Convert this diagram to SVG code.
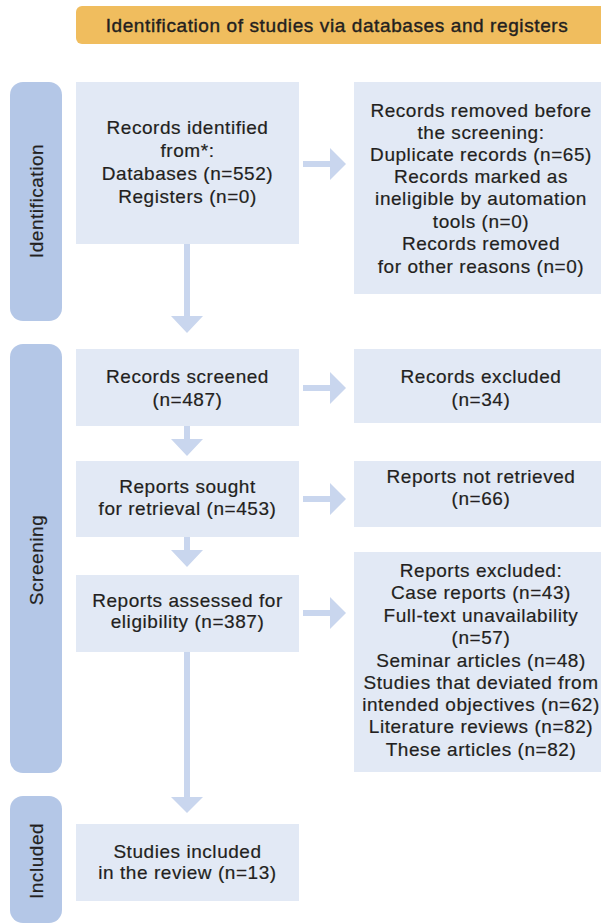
<svg xmlns="http://www.w3.org/2000/svg" width="601" height="924" viewBox="0 0 601 924">
<style>
.t{font-family:"Liberation Sans",Arial,Helvetica,sans-serif;font-size:19px;letter-spacing:0.55px;fill:#231f20;text-anchor:middle;stroke:#231f20;stroke-width:0.2}
.hd{font-family:"Liberation Sans",Arial,Helvetica,sans-serif;font-size:19px;letter-spacing:0.6px;fill:#231f20;text-anchor:middle;stroke:#231f20;stroke-width:0.4}
.box{fill:#e2e9f5}
.side{fill:#b4c7e7}
.arr{fill:#c9d6ee}
</style>
<rect width="601" height="924" fill="#ffffff"/>
<g id="header">
<rect x="76" y="6" width="535" height="38" rx="6" fill="#f0bd5e"/>
<text class="hd" x="337" y="32">Identification of studies via databases and registers</text>
</g>
<g id="phase-identification">
<rect class="side" x="10" y="82" width="52" height="239" rx="13"/>
<text class="t" transform="translate(43,201) rotate(-90)">Identification</text>
</g>
<g id="phase-screening">
<rect class="side" x="10" y="344" width="52" height="429" rx="13"/>
<text class="t" transform="translate(43,560) rotate(-90)">Screening</text>
</g>
<g id="phase-included">
<rect class="side" x="10" y="796" width="52" height="127" rx="13"/>
<text class="t" transform="translate(43,861) rotate(-90)">Included</text>
</g>
<g id="connectors">
<path class="arr" d="M184,244 V316 H171 L187,333 L203,316 H190 V244 Z"/>
<path class="arr" d="M184,426 V439 H171 L187,456 L203,439 H190 V426 Z"/>
<path class="arr" d="M184,537 V550 H171 L187,567 L203,550 H190 V537 Z"/>
<path class="arr" d="M184,652 V797 H171 L187,813 L203,797 H190 V652 Z"/>
<path class="arr" d="M303,161 H330 V148 L346,164 L330,180 V167 H303 Z"/>
<path class="arr" d="M303,385 H330 V372 L346,388 L330,404 V391 H303 Z"/>
<path class="arr" d="M303,496 H330 V483 L346,499 L330,515 V502 H303 Z"/>
<path class="arr" d="M303,610 H330 V597 L346,613 L330,629 V616 H303 Z"/>
</g>
<g id="records-identified">
<rect class="box" x="76" y="82" width="223" height="162"/>
<text class="t" x="187.5" y="134">Records identified</text>
<text class="t" x="187.5" y="157">from*:</text>
<text class="t" x="187.5" y="180">Databases (n=552)</text>
<text class="t" x="187.5" y="203">Registers (n=0)</text>
</g>
<g id="records-removed">
<rect class="box" x="354" y="82" width="247" height="212"/>
<text class="t" x="481" y="117">Records removed before</text>
<text class="t" x="481" y="139">the screening:</text>
<text class="t" x="481" y="161">Duplicate records (n=65)</text>
<text class="t" x="481" y="183">Records marked as</text>
<text class="t" x="481" y="205">ineligible by automation</text>
<text class="t" x="481" y="228">tools (n=0)</text>
<text class="t" x="481" y="250">Records removed</text>
<text class="t" x="481" y="273">for other reasons (n=0)</text>
</g>
<g id="records-screened">
<rect class="box" x="76" y="349" width="223" height="77"/>
<text class="t" x="187.5" y="383">Records screened</text>
<text class="t" x="187.5" y="406">(n=487)</text>
</g>
<g id="records-excluded">
<rect class="box" x="354" y="349" width="247" height="74"/>
<text class="t" x="481" y="383">Records excluded</text>
<text class="t" x="481" y="406">(n=34)</text>
</g>
<g id="reports-sought">
<rect class="box" x="76" y="461" width="223" height="76"/>
<text class="t" x="187.5" y="493">Reports sought</text>
<text class="t" x="187.5" y="515">for retrieval (n=453)</text>
</g>
<g id="reports-not-retrieved">
<rect class="box" x="354" y="461" width="247" height="66"/>
<text class="t" x="481" y="483">Reports not retrieved</text>
<text class="t" x="481" y="505">(n=66)</text>
</g>
<g id="reports-assessed">
<rect class="box" x="76" y="575" width="223" height="77"/>
<text class="t" x="187.5" y="607">Reports assessed for</text>
<text class="t" x="187.5" y="628">eligibility (n=387)</text>
</g>
<g id="reports-excluded">
<rect class="box" x="354" y="552" width="247" height="220"/>
<text class="t" x="481" y="577">Reports excluded:</text>
<text class="t" x="481" y="599">Case reports (n=43)</text>
<text class="t" x="481" y="622">Full-text unavailability</text>
<text class="t" x="481" y="644">(n=57)</text>
<text class="t" x="481" y="667">Seminar articles (n=48)</text>
<text class="t" x="481" y="689">Studies that deviated from</text>
<text class="t" x="481" y="711">intended objectives (n=62)</text>
<text class="t" x="481" y="733">Literature reviews (n=82)</text>
<text class="t" x="481" y="756">These articles (n=82)</text>
</g>
<g id="studies-included">
<rect class="box" x="76" y="824" width="223" height="77"/>
<text class="t" x="187.5" y="858">Studies included</text>
<text class="t" x="187.5" y="879">in the review (n=13)</text>
</g>
</svg>
